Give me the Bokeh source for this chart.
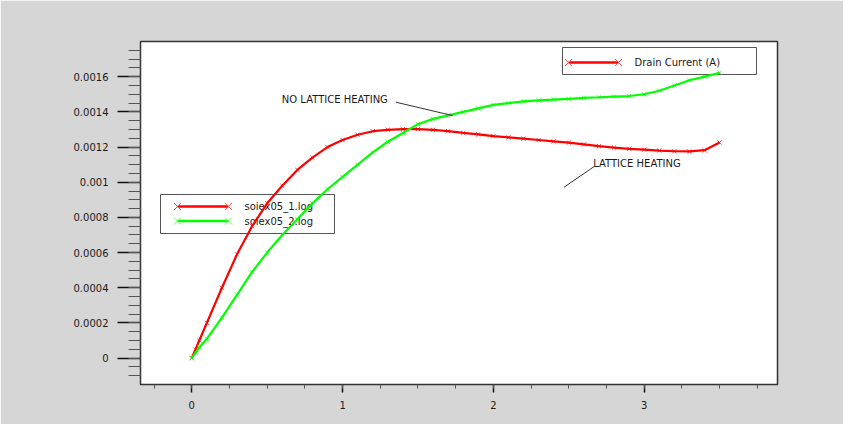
from bokeh.plotting import figure
from bokeh.models import (Range1d, SingleIntervalTicker, CustomJSTickFormatter,
                          Label, BoxAnnotation)
from bokeh.core.properties import value
from bokeh.embed import file_html
from bokeh.resources import INLINE

# ---------------- data ----------------
VD = [0.0, 0.025, 0.05, 0.1, 0.2, 0.3, 0.4, 0.5, 0.6, 0.7, 0.8, 0.9, 1.0,
      1.1, 1.2, 1.3, 1.4, 1.5, 1.6, 1.7, 1.8, 1.9, 2.0, 2.1, 2.2, 2.3, 2.4,
      2.5, 2.6, 2.7, 2.8, 2.9, 3.0, 3.1, 3.2, 3.3, 3.4, 3.5]

# soiex05_1.log (red)
ID_1 = [0.0, 0.00005, 0.00010, 0.00020, 0.00040, 0.00059, 0.00075, 0.00088,
        0.00098, 0.00107, 0.00114, 0.00120, 0.00124, 0.00127, 0.00129,
        0.001298, 0.001302, 0.001302, 0.001298, 0.00129, 0.00128, 0.001272,
        0.001262, 0.001255, 0.001248, 0.00124, 0.001232, 0.001225, 0.001215,
        0.001205, 0.001197, 0.00119, 0.001185, 0.00118, 0.001176, 0.001175,
        0.001182, 0.001226]

# soiex05_2.log (green)
ID_2 = [0.0, 0.00003, 0.00006, 0.00011, 0.00023, 0.00036, 0.00049, 0.00060,
        0.00070, 0.00079, 0.00088, 0.00096, 0.00103, 0.00110, 0.00117,
        0.00123, 0.00128, 0.00133, 0.00136, 0.00138, 0.00140, 0.00142,
        0.00144, 0.00145, 0.00146, 0.001465, 0.00147, 0.001474, 0.00148,
        0.001483, 0.001487, 0.00149, 0.00150, 0.00152, 0.00155, 0.00158,
        0.00160, 0.001622]

SERIES_NAMES = ["soiex05_1.log", "soiex05_2.log"]
SERIES_COLORS = ["#ff0000", "#00ff00"]

X_TICKS = [0, 1, 2, 3]
X_TICK_LABELS = ["0", "1", "2", "3"]
Y_TICKS = [0.0, 0.0002, 0.0004, 0.0006, 0.0008, 0.001, 0.0012, 0.0014, 0.0016]
Y_TICK_LABELS = ["0", "0.0002", "0.0004", "0.0006", "0.0008", "0.001",
                 "0.0012", "0.0014", "0.0016"]

TITLE = "ATLAS OVERLAY"
SUBTITLE = "Data from multiple files"
X_TITLE = "Drain Voltage (V)"
LEGEND1_LABEL = "Drain Current (A)"

# annotations (data coordinates)
ANNOT_TEXT = ["NO LATTICE HEATING", "LATTICE HEATING"]
ANNOT_TEXT_X = [0.597, 2.662]
ANNOT_TEXT_Y = [0.001472, 0.001108]
ANNOT_LINE_X0 = [1.353, 2.668]
ANNOT_LINE_Y0 = [0.001455, 0.001089]
ANNOT_LINE_X1 = [1.729, 2.469]
ANNOT_LINE_Y1 = [0.001379, 0.000972]

FONT = "DejaVu Sans"
TXT = "#1a1a1a"
BG = "#d6d6d6"

p = figure(width=843, height=424,
           x_range=Range1d(-0.34, 3.884), y_range=Range1d(-0.00015, 0.0018),
           output_backend="svg", toolbar_location=None,
           min_border_left=140, min_border_right=66,
           min_border_top=41, min_border_bottom=40)
p.background_fill_color = "white"
p.border_fill_color = BG
p.outline_line_color = "#333333"
p.outline_line_width = 1.5
p.grid.visible = False

# page-pixel coordinate system for layout decorations
p.extra_x_ranges = {"px": Range1d(148, 785)}
p.extra_y_ranges = {"py": Range1d(392, 49)}

# axes
xa = p.xaxis[0]
xa.ticker = SingleIntervalTicker(interval=1, num_minor_ticks=4)
xa.formatter = CustomJSTickFormatter(
    args=dict(vals=X_TICKS, labels=X_TICK_LABELS),
    code="for (let i=0;i<vals.length;i++){if(Math.abs(vals[i]-tick)<1e-6) return labels[i];} return '';")
xa.major_tick_in = 0
xa.major_tick_out = 8
xa.minor_tick_in = 0
xa.minor_tick_out = 4
xa.major_label_standoff = 8

ya = p.yaxis[0]
ya.ticker = SingleIntervalTicker(interval=0.0002, num_minor_ticks=4)
ya.formatter = CustomJSTickFormatter(
    args=dict(vals=Y_TICKS, labels=Y_TICK_LABELS),
    code="for (let i=0;i<vals.length;i++){if(Math.abs(vals[i]-tick)<1e-9) return labels[i];} return '';")
ya.major_tick_in = 0
ya.major_tick_out = 23
ya.minor_tick_in = 0
ya.minor_tick_out = 12
ya.major_label_standoff = 9

for ax in (xa, ya):
    ax.axis_line_color = "#333333"
    ax.major_tick_line_color = "#111111"
    ax.major_tick_line_width = 1.5
    ax.minor_tick_line_color = "#555555"
    ax.major_label_text_font = FONT
    ax.major_label_text_font_size = "10px"
    ax.major_label_text_color = TXT

# left black frame bar of the window
p.add_layout(BoxAnnotation(left=2, right=7, top=0, bottom=424,
                           left_units="canvas", right_units="canvas",
                           top_units="canvas", bottom_units="canvas",
                           fill_color="black", fill_alpha=1.0, line_color=None,
                           level="overlay"))

# titles
p.add_layout(Label(x=440, y=19.5, x_range_name="px", y_range_name="py",
                   text=TITLE, text_font=FONT, text_font_size="13px",
                   text_color=TXT, text_align="center", text_baseline="middle"))
p.add_layout(Label(x=440, y=40, x_range_name="px", y_range_name="py",
                   text=SUBTITLE, text_font=FONT, text_font_size="12px",
                   text_color=TXT, text_align="center", text_baseline="middle"))
p.add_layout(Label(x=466.5, y=425.5, x_range_name="px", y_range_name="py",
                   text=X_TITLE, text_font=FONT, text_font_size="10px",
                   text_color=TXT, text_align="center", text_baseline="middle"))

PX = dict(x_range_name="px", y_range_name="py")

# legend 1 (top right)
p.quad(left=[570], right=[764], top=[55], bottom=[82], fill_color="white",
       line_color="#555555", line_width=1, **PX)
p.segment(x0=[576], y0=[70], x1=[626], y1=[70], line_color=SERIES_COLORS[0],
          line_width=2.5, **PX)
p.scatter(x=[576, 626], y=[70, 70], marker="x", size=10,
          line_color="#ff5a5a", line_width=1, **PX)
p.text(x=[642], y=[70], text=[LEGEND1_LABEL], text_font=value(FONT),
       text_font_size="10px", text_color=TXT, text_baseline="middle", **PX)

# legend 2 (left)
p.quad(left=[168], right=[342], top=[202], bottom=[241], fill_color="white",
       line_color="#555555", line_width=1, **PX)
for name, col, yy, mcol in zip(SERIES_NAMES, SERIES_COLORS, [214, 228.5],
                               ["#ff5a5a", "#5aff5a"]):
    p.segment(x0=[185], y0=[yy], x1=[236], y1=[yy], line_color=col,
              line_width=2.5, **PX)
    p.scatter(x=[185, 236], y=[yy, yy], marker="x", size=10,
              line_color=mcol, line_width=1, **PX)
    p.text(x=[252], y=[yy], text=[name], text_font=value(FONT),
           text_font_size="10px", text_color=TXT, text_baseline="middle", **PX)

# curves
for ys, col in zip([ID_1, ID_2], SERIES_COLORS):
    p.line(VD, ys, line_color=col, line_width=2.2)
    p.scatter(VD, ys, marker="x", size=6, line_color=col, line_width=1,
              line_alpha=0.7)

# annotations
p.segment(x0=ANNOT_LINE_X0, y0=ANNOT_LINE_Y0, x1=ANNOT_LINE_X1,
          y1=ANNOT_LINE_Y1, line_color="#333333", line_width=1)
for t, x, y in zip(ANNOT_TEXT, ANNOT_TEXT_X, ANNOT_TEXT_Y):
    p.add_layout(Label(x=x, y=y, text=t, text_font=FONT, text_font_size="10px",
                       text_color=TXT, text_align="left",
                       text_baseline="middle"))

open("out.html", "w").write(file_html(p, INLINE))
